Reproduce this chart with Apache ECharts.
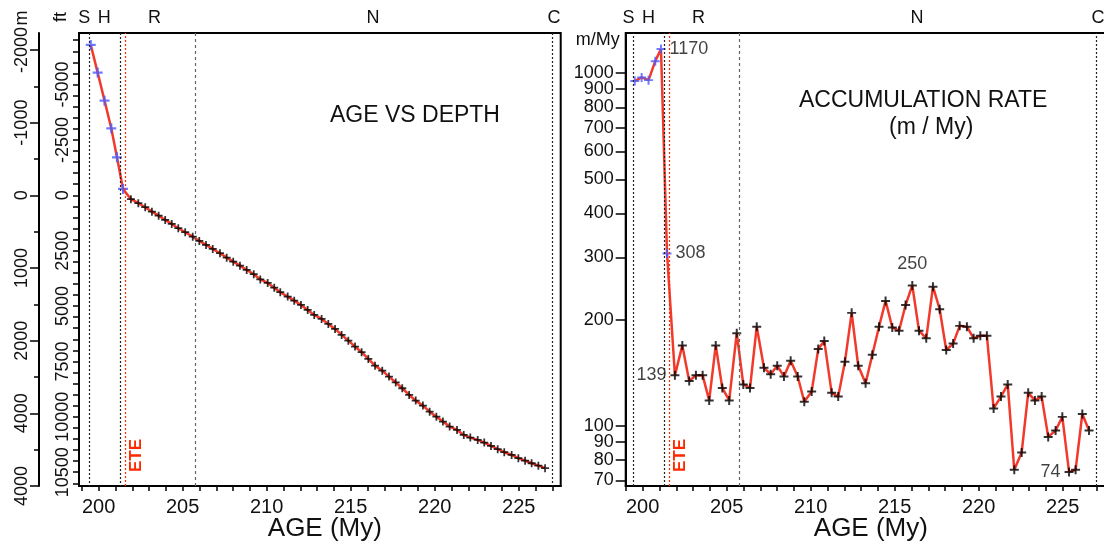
<!DOCTYPE html>
<html>
<head>
<meta charset="utf-8">
<script src="https://cdn.jsdelivr.net/npm/echarts@6/dist/echarts.min.js"></script>
<style>html,body{margin:0;padding:0;background:#fff}#c{width:1104px;height:546px}</style>
</head>
<body>
<div id="c"></div>
<script>
// ---- data ----
const blueAges  = [199.53, 199.94, 200.35, 200.75, 201.09, 201.45];
const blueDepth = [-2069, -1688, -1302, -922, -523, -87];
const blueRate  = [949, 972, 955, 1081, 1170, 308];

const blackAges = [201.92, 202.36, 202.77, 203.17, 203.57, 203.96, 204.35, 204.74, 205.15, 205.60,
  205.99, 206.39, 206.79, 207.22, 207.62, 208.01, 208.41, 208.81, 209.23, 209.62,
  210.06, 210.45, 210.81, 211.25, 211.64, 212.04, 212.44, 212.83, 213.27, 213.67,
  214.07, 214.46, 214.86, 215.26, 215.65, 216.05, 216.45, 216.88, 217.28, 217.68,
  218.07, 218.48, 218.87, 219.30, 219.70, 220.10, 220.49, 220.89, 221.33, 221.73,
  222.12, 222.56, 222.95, 223.35, 223.75, 224.14, 224.58, 224.98, 225.38, 225.77,
  226.17, 226.57];
const blackDepth = [54, 109, 164, 225, 280, 339, 394, 453, 508, 569,
  628, 683, 738, 797, 858, 913, 968, 1027, 1086, 1158,
  1206, 1271, 1334, 1394, 1450, 1509, 1577, 1646, 1701, 1770,
  1839, 1921, 2000, 2082, 2159, 2252, 2344, 2413, 2495, 2575,
  2655, 2747, 2825, 2894, 2977, 3046, 3114, 3183, 3229, 3297,
  3334, 3366, 3403, 3449, 3494, 3535, 3573, 3618, 3651, 3687,
  3720, 3755];
const blackRate = [139, 169, 134, 139, 139, 118, 169, 128, 118, 183,
  131, 128, 191, 146, 140, 148, 138, 153, 138, 117,
  125, 165, 174, 124, 121, 152, 209, 148, 132, 159,
  191, 226, 190, 186, 220, 250, 186, 177, 248, 214,
  164, 171, 192, 191, 177, 180, 180, 112, 121, 131,
  75, 84, 124, 118, 121, 93, 97, 106, 74, 75,
  108, 97];

// annotated rate points: [index, label side]
const blueRateNotes  = [[4, 'right'], [5, 'right']];
const blackRateNotes = [[0, 'left'], [35, 'top'], [58, 'left']];

// ---- zones / boundaries ----
const zoneNames     = ['S', 'H', 'R', 'N', 'C'];
const zoneLabelAges = [199.15, 200.34, 203.32, 216.33, 227.1];
const boundaryAges  = [199.45, 201.3, 205.73, 227.0];
const eteAge = 201.58;

// ---- ticks ----
const xTickAges  = [199,200,201,202,203,204,205,206,207,208,209,210,211,212,213,214,215,216,217,218,219,220,221,222,223,224,225,226,227];
const xLabelAges = [200, 205, 210, 215, 220, 225];
const depthLabelValues = [-2000, -1000, 0, 1000, 2000, 3000, 4000];
const depthLabels      = ['-2000', '-1000', '0', '1000', '2000', '4000', '4000'];
const depthMinorTicks  = [-2000,-1500,-1000,-500,0,500,1000,1500,2000,2500,3000,3500,4000];
const ftLabelValues = [-5000, -2500, 0, 2500, 5000, 7500, 10000, 12500];
const ftLabels      = ['-5000', '-2500', '0', '2500', '5000', '7500', '10000', '10500'];
const ftTickValues  = [-7000,-6500,-6000,-5500,-5000,-4500,-4000,-3500,-3000,-2500,-2000,-1500,-1000,-500,0,
  500,1000,1500,2000,2500,3000,3500,4000,4500,5000,5500,6000,6500,7000,7500,8000,8500,9000,9500,10000,
  10500,11000,11500,12000,12500,13000];
const rateTickValues   = [70, 80, 90, 100, 200, 300, 400, 500, 600, 700, 800, 900, 1000];
const rateLabelsMain   = [70, 80, 90, 100, 200, 300, 400, 500, 600, 700, 800, 1000];
const rateLabelsExtra  = [900];

// ---- axis extents ----
const FT_PER_M = 3.28084;
const mMin = -2233, mMax = 4000;
const rateMin = 67.5, rateMax = 1299;
const ageMinL = 198.83, ageMaxL = 227.5;
const ageMinR = 198.99, ageMaxR = 227.58;

// ---- styles ----
const FONT = 'Liberation Sans, Arial, Helvetica, sans-serif';
const RED = '#f23a2c', BLUE = '#4c5cff', ETE_RED = '#ff2a00', TXT = '#111';
const PLUS = 'path://M3.9,0H6.1V3.9H10V6.1H6.1V10H3.9V6.1H0V3.9H3.9Z';

const zip = (a, b) => a.map((v, i) => [v, b[i]]);
const allAges = blueAges.concat(blackAges);
const pick = (vals, labels) => v => {
  let best = 0, d = Infinity;
  vals.forEach((x, i) => { const e = Math.abs(x - v); if (e < d) { d = e; best = i; } });
  return labels[best];
};

function bottomX(grid, min, max) {
  return {
    gridIndex: grid, type: 'value', position: 'bottom', min: min, max: max,
    splitLine: {show: false},
    axisLine: {show: true, onZero: false, lineStyle: {color: '#000', width: 2}},
    axisTick: {show: true, length: 5, customValues: xTickAges, lineStyle: {color: '#000', width: 1.5}},
    axisLabel: {customValues: xLabelAges, formatter: v => String(Math.round(v)), margin: 11, fontSize: 20, color: TXT, fontFamily: FONT, hideOverlap: false},
    name: 'AGE (My)', nameLocation: 'middle', nameGap: 30, nameMoveOverlap: false,
    nameTextStyle: {fontSize: 26, color: TXT, fontFamily: FONT, padding: [0, 0, 0, 10]}
  };
}
function topX(grid, min, max) {
  return {
    gridIndex: grid, type: 'value', position: 'top', min: min, max: max,
    splitLine: {show: false},
    axisLine: {show: false}, axisTick: {show: false},
    axisLabel: {customValues: zoneLabelAges, formatter: pick(zoneLabelAges, zoneNames), margin: 6, fontSize: 18, color: TXT, fontFamily: FONT, hideOverlap: false}
  };
}
function zoneLines(bottomVal, topVal) {
  const data = boundaryAges.map(a => ({
    xAxis: a,
    lineStyle: a === 205.73 ? {color: '#666', type: [3, 3], width: 1.2} : {color: '#222', type: [2, 2], width: 1.2}
  }));
  data.push([
    {coord: [eteAge, bottomVal],
     lineStyle: {color: ETE_RED, type: [2, 2], width: 1.2},
     label: {show: true, formatter: 'ETE', position: 'insideStartBottom', distance: [14, 3],
             color: ETE_RED, fontWeight: 'bold', fontSize: 17, fontFamily: FONT}},
    {coord: [eteAge, topVal]}
  ]);
  return {silent: true, symbol: ['none', 'none'], animation: false, label: {show: false}, data: data};
}
function noted(ages, vals, notes) {
  return ages.map((a, i) => {
    const n = notes.find(x => x[0] === i);
    if (!n) return [a, vals[i]];
    return {value: [a, vals[i]], label: {show: true, position: n[1], distance: n[1] === 'top' ? 8 : 4}};
  });
}
const noteLabel = {show: false, formatter: p => String(Math.round(p.value[1])), fontSize: 18, color: '#111', fontFamily: FONT};

function rateAxis(labels, showLine, showTicks) {
  return {
    gridIndex: 1, type: 'log', logBase: 10, position: 'left', min: rateMin, max: rateMax,
    splitLine: {show: false}, minorTick: {show: false},
    axisLine: {show: showLine, onZero: false, lineStyle: {color: '#000', width: 2}},
    axisTick: {show: showTicks, length: 10, customValues: rateTickValues, lineStyle: {color: '#000', width: 1.5}},
    axisLabel: {customValues: labels, formatter: v => String(Math.round(v)), margin: 12, fontSize: 18,
                color: TXT, fontFamily: FONT, hideOverlap: false}
  };
}

const rateMainAxis = rateAxis(rateLabelsMain, true, true);
rateMainAxis.name = 'm/My';
rateMainAxis.nameLocation = 'end';
rateMainAxis.nameGap = -7;
rateMainAxis.nameMoveOverlap = false;
rateMainAxis.nameTextStyle = {fontSize: 18, color: TXT, fontFamily: FONT, align: 'right', verticalAlign: 'middle', padding: [0, 6, 0, 0]};

const option = {
  animation: false,
  backgroundColor: '#fff',
  textStyle: {fontFamily: FONT},
  title: [
    {text: 'AGE VS DEPTH', left: 330, top: 104, padding: 0, textStyle: {fontSize: 23, fontWeight: 'normal', color: TXT, fontFamily: FONT}},
    {text: 'ACCUMULATION RATE', left: 799, top: 89, padding: 0, textStyle: {fontSize: 23, fontWeight: 'normal', color: TXT, fontFamily: FONT}},
    {text: '(m / My)', left: 889, top: 116, padding: 0, textStyle: {fontSize: 23, fontWeight: 'normal', color: TXT, fontFamily: FONT}}
  ],
  graphic: [
    {type: 'text', x: 22, y: 18, rotation: Math.PI / 2, silent: true,
     style: {text: 'm', fill: TXT, font: '18px ' + FONT, align: 'center', verticalAlign: 'middle'}},
    {type: 'text', x: 61, y: 17, rotation: Math.PI / 2, silent: true,
     style: {text: 'ft', fill: TXT, font: '18px ' + FONT, align: 'center', verticalAlign: 'middle'}}
  ],
  grid: [
    {left: 79, top: 33, right: 543.3, bottom: 60, show: true, borderColor: '#000', borderWidth: 2,
     backgroundColor: 'transparent', containLabel: false, outerBoundsMode: 'none'},
    {left: 625.7, top: 33, right: -2, bottom: 60, show: true, borderColor: '#000', borderWidth: 2,
     backgroundColor: 'transparent', containLabel: false, outerBoundsMode: 'none'}
  ],
  xAxis: [
    bottomX(0, ageMinL, ageMaxL),
    topX(0, ageMinL, ageMaxL),
    bottomX(1, ageMinR, ageMaxR),
    topX(1, ageMinR, ageMaxR)
  ],
  yAxis: [
    { // ft
      gridIndex: 0, type: 'value', position: 'left', offset: 0, inverse: true,
      min: mMin * FT_PER_M, max: mMax * FT_PER_M,
      splitLine: {show: false},
      axisLine: {show: true, onZero: false, lineStyle: {color: '#000', width: 2}},
      axisTick: {show: true, length: 6, customValues: ftTickValues, lineStyle: {color: '#000', width: 1.5}},
      axisLabel: {customValues: ftLabelValues, formatter: pick(ftLabelValues, ftLabels), rotate: 90, margin: 7, fontSize: 18, color: TXT, fontFamily: FONT, hideOverlap: false}
    },
    { // m
      gridIndex: 0, type: 'value', position: 'left', offset: 40, inverse: true,
      min: mMin, max: mMax,
      splitLine: {show: false},
      axisLine: {show: true, onZero: false, lineStyle: {color: '#000', width: 2}},
      axisTick: {show: true, length: 9, customValues: depthLabelValues, lineStyle: {color: '#000', width: 1.5}},
      axisLabel: {customValues: depthLabelValues, formatter: pick(depthLabelValues, depthLabels), rotate: 90, margin: 8, fontSize: 18, color: TXT, fontFamily: FONT, hideOverlap: false}
    },
    { // m minor ticks
      gridIndex: 0, type: 'value', position: 'left', offset: 40, inverse: true,
      min: mMin, max: mMax,
      splitLine: {show: false}, axisLine: {show: false},
      axisTick: {show: true, length: 5, customValues: depthMinorTicks, lineStyle: {color: '#000', width: 1.5}},
      axisLabel: {show: false}
    },
    rateMainAxis,                          // 3: rate (log)
    rateAxis(rateLabelsExtra, false, false) // 4: extra rate label
  ],
  series: [
    {type: 'line', xAxisIndex: 0, yAxisIndex: 1, data: zip(allAges, blueDepth.concat(blackDepth)),
     symbol: 'none', lineStyle: {color: RED, width: 2.5}, z: 2, silent: true,
     markLine: zoneLines(mMax, mMin)},
    {type: 'scatter', xAxisIndex: 0, yAxisIndex: 1, data: zip(blueAges, blueDepth),
     symbol: PLUS, symbolSize: 10, itemStyle: {color: BLUE}, z: 4, silent: true},
    {type: 'scatter', xAxisIndex: 0, yAxisIndex: 1, data: zip(blackAges, blackDepth),
     symbol: PLUS, symbolSize: 8, itemStyle: {color: '#000'}, z: 3, silent: true},

    {type: 'line', xAxisIndex: 2, yAxisIndex: 3, data: zip(allAges, blueRate.concat(blackRate)),
     symbol: 'none', lineStyle: {color: RED, width: 2.5}, z: 2, silent: true,
     markLine: zoneLines(rateMin, rateMax)},
    {type: 'scatter', xAxisIndex: 2, yAxisIndex: 3, data: noted(blueAges, blueRate, blueRateNotes),
     symbol: PLUS, symbolSize: 9, itemStyle: {color: BLUE}, z: 4, silent: true, label: noteLabel},
    {type: 'scatter', xAxisIndex: 2, yAxisIndex: 3, data: noted(blackAges, blackRate, blackRateNotes),
     symbol: PLUS, symbolSize: 9, itemStyle: {color: '#000'}, z: 3, silent: true, label: noteLabel}
  ]
};

const chart = echarts.init(document.getElementById('c'), null, {renderer: 'canvas'});
chart.setOption(option);
</script>
</body>
</html>
